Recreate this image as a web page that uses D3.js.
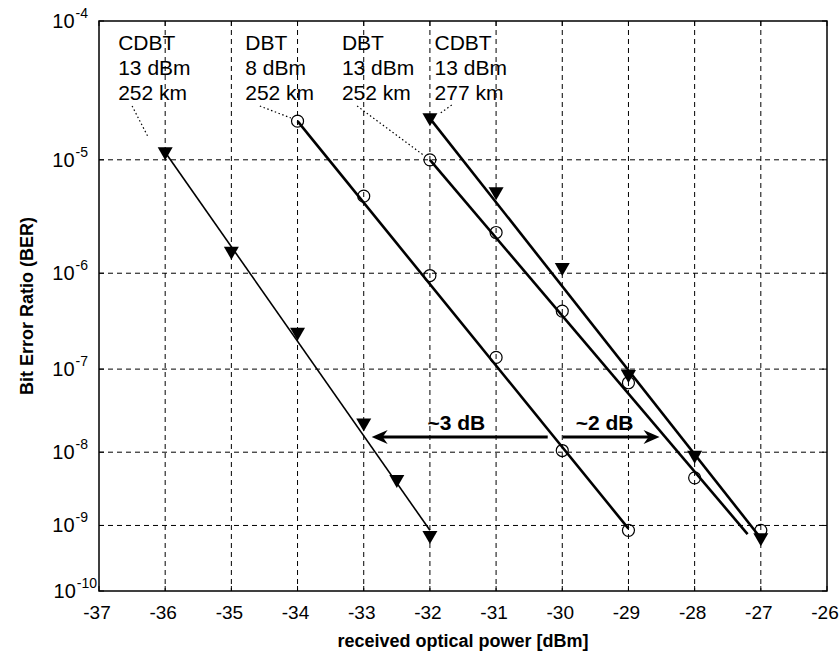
<!DOCTYPE html>
<html>
<head>
<meta charset="utf-8">
<script src="https://cdnjs.cloudflare.com/ajax/libs/d3/7.8.5/d3.min.js"></script>
<style>
  body { margin: 0; background: #fff; }
  svg text { font-family: "Liberation Sans", Arial, sans-serif; fill: #000; }
</style>
</head>
<body>
<svg id="chart" width="840" height="655"></svg>
<script>
// x axis: received optical power [dBm]
var powerTicks = [-37, -36, -35, -34, -33, -32, -31, -30, -29, -28, -27, -26];
// y axis: BER decades (exponent n of 10^-n)
var berExponents = [4, 5, 6, 7, 8, 9, 10];

// measured points
var cdbt252Power = [-36, -35, -34, -33, -32.5, -32];
var cdbt252Ber   = [1.15e-5, 1.6e-6, 2.5e-7, 2.3e-8, 4.3e-9, 7e-10];
var dbt8Power    = [-34, -33, -32, -31, -30, -29];
var dbt8Ber      = [2.0e-5, 5.0e-6, 9.5e-7, 1.35e-7, 1.05e-8, 8.5e-10];
var dbt13Power   = [-32, -31, -30, -29, -28, -27];
var dbt13Ber     = [1.0e-5, 2.4e-6, 4.2e-7, 7e-8, 4.6e-9, 8.5e-10];
var cdbt277Power = [-32, -31, -30, -29, -28, -27];
var cdbt277Ber   = [2.1e-5, 5.4e-6, 1.12e-6, 8.6e-8, 9e-9, 6.5e-10];

// fitted lines [power, ber] start and end
var cdbt252Fit = [[-36, 1.15e-5], [-32, 8.5e-10]];
var dbt8Fit    = [[-34, 2.0e-5], [-29, 9e-10]];
var dbt13Fit   = [[-32, 1.0e-5], [-27.2, 7.5e-10]];
var cdbt277Fit = [[-32, 2.1e-5], [-27, 6.5e-10]];

// labels
var seriesLabels = [["CDBT", "13 dBm", "252 km"],
                    ["DBT", "8 dBm", "252 km"],
                    ["DBT", "13 dBm", "252 km"],
                    ["CDBT", "13 dBm", "277 km"]];

var margin = {"left": 99, "right": 13, "top": 21, "bottom": 64};
var width = 840, height = 655;

var svg = d3.select("#chart");

var xScale = d3.scaleLinear()
               .domain([-37, -26])
               .range([margin.left, width - margin.right]);

// BER axis on log(-log(BER)) scale
var nScale = d3.scaleLog()
               .domain([4, 10])
               .range([margin.top, height - margin.bottom]);
function yBer(b) { return nScale(-Math.log10(b)); }

var x0 = xScale(-37), x1 = xScale(-26);
var y0 = nScale(4), y1 = nScale(10);

// grid
var grid = svg.append("g").attr("stroke", "#000").attr("stroke-width", 1)
              .attr("stroke-dasharray", "5,4");
grid.selectAll(".vg").data(powerTicks.slice(1, -1)).enter().append("line")
    .attr("x1", function(d) { return xScale(d); })
    .attr("x2", function(d) { return xScale(d); })
    .attr("y1", y0).attr("y2", y1);
grid.selectAll(".hg").data(berExponents.slice(1, -1)).enter().append("line")
    .attr("x1", x0).attr("x2", x1)
    .attr("y1", function(d) { return nScale(d); })
    .attr("y2", function(d) { return nScale(d); });

// frame
svg.append("rect").attr("x", x0).attr("y", y0)
   .attr("width", x1 - x0).attr("height", y1 - y0)
   .attr("fill", "none").attr("stroke", "#000").attr("stroke-width", 1.5);

// inner ticks
var ticks = svg.append("g").attr("stroke", "#000").attr("stroke-width", 1);
powerTicks.forEach(function(d) {
  ticks.append("line").attr("x1", xScale(d)).attr("x2", xScale(d)).attr("y1", y0).attr("y2", y0 + 5);
  ticks.append("line").attr("x1", xScale(d)).attr("x2", xScale(d)).attr("y1", y1).attr("y2", y1 - 5);
});
berExponents.forEach(function(d) {
  ticks.append("line").attr("x1", x0).attr("x2", x0 + 5).attr("y1", nScale(d)).attr("y2", nScale(d));
  ticks.append("line").attr("x1", x1).attr("x2", x1 - 5).attr("y1", nScale(d)).attr("y2", nScale(d));
});

// x tick labels
svg.append("g").selectAll("text").data(powerTicks).enter().append("text")
   .attr("x", function(d) { return xScale(d) - 2; })
   .attr("y", y1 + 28)
   .attr("text-anchor", "middle")
   .attr("font-size", 19)
   .text(function(d) { return d; });

// y tick labels 10^-n
var yl = svg.append("g").selectAll("text").data(berExponents).enter().append("text")
   .attr("x", function(d) { return d == 10 ? 97 : 88; })
   .attr("y", function(d) { return nScale(d) + 7; })
   .attr("text-anchor", "end")
   .attr("font-size", 20);
yl.append("tspan").text("10");
yl.append("tspan").attr("font-size", 14).attr("dy", -10).attr("dx", 1)
  .text(function(d) { return "-" + d; });

// axis titles
svg.append("text")
   .attr("x", (x0 + x1) / 2).attr("y", 647)
   .attr("text-anchor", "middle")
   .attr("font-size", 18).attr("font-weight", "bold")
   .text("received optical power [dBm]");
svg.append("text")
   .attr("transform", "translate(33," + ((y0 + y1) / 2) + ") rotate(-90)")
   .attr("text-anchor", "middle")
   .attr("font-size", 18).attr("font-weight", "bold")
   .text("Bit Error Ratio (BER)");

// fitted lines
var fitLine = d3.line().x(function(d) { return xScale(d[0]); }).y(function(d) { return yBer(d[1]); });
svg.append("path").datum(cdbt252Fit).attr("d", fitLine).attr("fill", "none").attr("stroke", "#000").attr("stroke-width", 1.6);
[dbt8Fit, dbt13Fit, cdbt277Fit].forEach(function(f) {
  svg.append("path").datum(f).attr("d", fitLine).attr("fill", "none").attr("stroke", "#000").attr("stroke-width", 2.6);
});

// markers
function zipPts(px, py) { return px.map(function(p, i) { return [p, py[i]]; }); }
var triangle = "M-7.5,-6 L7.5,-6 L0,7 Z";
function drawTriangles(pts) {
  svg.append("g").selectAll("path").data(pts).enter().append("path")
     .attr("d", triangle)
     .attr("transform", function(d) { return "translate(" + xScale(d[0]) + "," + (yBer(d[1]) + 1) + ")"; })
     .attr("fill", "#000");
}
function drawCircles(pts) {
  svg.append("g").selectAll("circle").data(pts).enter().append("circle")
     .attr("cx", function(d) { return xScale(d[0]); })
     .attr("cy", function(d) { return yBer(d[1]); })
     .attr("r", 6)
     .attr("fill", "none").attr("stroke", "#000").attr("stroke-width", 1.2);
}
drawTriangles(zipPts(cdbt252Power, cdbt252Ber));
drawCircles(zipPts(dbt8Power, dbt8Ber));
drawCircles(zipPts(dbt13Power, dbt13Ber));
drawTriangles(zipPts(cdbt277Power, cdbt277Ber));

// series labels
var labelPower = [-36.71, -34.79, -33.33, -31.93];
seriesLabels.forEach(function(lines, i) {
  var t = svg.append("text").attr("font-size", 21);
  lines.forEach(function(s, j) {
    t.append("tspan").attr("x", xScale(labelPower[i])).attr("y", 50 + j * 25).text(s);
  });
});

// dotted leaders
var leaders = [[[-36.5, 106], [-36.25, 138]],
               [[-34.57, 106], [-34.1, 118]],
               [[-33.1, 106], [-32.1, 155]],
               [[-31.67, 105], [-31.86, 114]]];
leaders.forEach(function(l) {
  svg.append("line")
     .attr("x1", xScale(l[0][0])).attr("y1", l[0][1])
     .attr("x2", xScale(l[1][0])).attr("y2", l[1][1])
     .attr("stroke", "#000").attr("stroke-width", 1.2).attr("stroke-dasharray", "1.5,2.5");
});

// dB arrows
var arrowBer = 1.56e-8;
var arrows = [{"from": -30.22, "to": -32.88, "label": "~3 dB", "lx": -31.6},
              {"from": -29.99, "to": -28.53, "label": "~2 dB", "lx": -29.36}];
arrows.forEach(function(a) {
  var ya = yBer(arrowBer);
  var xf = xScale(a.from), xt = xScale(a.to);
  var dir = xt > xf ? 1 : -1;
  svg.append("line").attr("x1", xf).attr("x2", xt - dir * 10).attr("y1", ya).attr("y2", ya)
     .attr("stroke", "#000").attr("stroke-width", 3);
  svg.append("path")
     .attr("d", "M" + xt + "," + ya + " L" + (xt - dir * 16) + "," + (ya - 7) + " L" + (xt - dir * 11) + "," + ya +
                " L" + (xt - dir * 16) + "," + (ya + 7) + " Z")
     .attr("fill", "#000");
  svg.append("text").attr("x", xScale(a.lx)).attr("y", ya - 7)
     .attr("text-anchor", "middle").attr("font-size", 21).attr("font-weight", "bold")
     .text(a.label);
});
</script>
</body>
</html>
